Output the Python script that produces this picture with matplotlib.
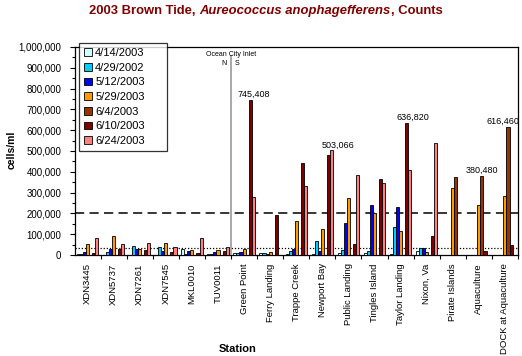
import matplotlib
matplotlib.use("Agg")
import matplotlib.pyplot as plt
import numpy as np
from matplotlib.patches import Patch
from matplotlib.ticker import FuncFormatter, MultipleLocator

plt.rcParams["font.family"] = ["Liberation Sans", "DejaVu Sans"]

stations = ["XDN3445", "XDN5737", "XDN7261", "XDN7545", "MKL0010", "TUV0011",
            "Green Point", "Ferry Landing", "Trappe Creek", "Newport Bay",
            "Public Landing", "Tingles Island", "Taylor Landing", "Nixon, Va",
            "Pirate Islands", "Aquaculture", "DOCK at Aquaculture"]
dates = ["4/14/2003", "4/29/2002", "5/12/2003", "5/29/2003",
         "6/4/2003", "6/10/2003", "6/24/2003"]
colors = ["#CCFFFF", "#00CCFF", "#0000FF", "#FF9900", "#993300", "#800000", "#FF8080"]

counts_0414 = [3000, 0, 0, 0, 28000, 4000, 10000, 8000, 5000, 4000, 8000, 8000, 4000, 19000, 0, 0, 0]
counts_0429 = [5000, 15000, 42000, 38000, 3000, 4000, 10000, 8000, 18000, 67000, 24000, 19000, 136000, 32000, 0, 0, 0]
counts_0512 = [14000, 30000, 30000, 18000, 18000, 15000, 14000, 5000, 29000, 19000, 152000, 240000, 232000, 32000, 0, 0, 0]
counts_0529 = [52000, 90000, 29000, 56000, 24000, 24000, 30000, 14000, 163000, 125000, 272000, 200000, 117000, 16000, 324000, 240000, 284000]
counts_0604 = [0, 0, 0, 0, 0, 0, 0, 0, 0, 0, 0, 0, 0, 0, 377000, 380480, 616460]
counts_0610 = [10000, 29000, 24000, 15000, 12000, 18000, 745408, 192000, 441000, 481000, 52000, 365000, 636820, 91000, 0, 19000, 48000]
counts_0624 = [80000, 52000, 56000, 37000, 80000, 37000, 277000, 0, 332000, 503066, 385000, 348000, 409000, 537000, 0, 0, 0]
series = [counts_0414, counts_0429, counts_0512, counts_0529, counts_0604, counts_0610, counts_0624]

# bars that carry a value label: (date, station, x offset in points)
labelled = [("6/10/2003", "Green Point", 2.5), ("6/24/2003", "Newport Bay", 5),
            ("6/10/2003", "Taylor Landing", 4.5), ("6/4/2003", "Aquaculture", 0),
            ("6/4/2003", "DOCK at Aquaculture", -3.5)]

cat2_threshold = 200000
cat1_threshold = 35000

W, H = 522, 356
fig = plt.figure(figsize=(W / 100, H / 100), dpi=100)
ax = fig.add_axes([74.5 / W, 1 - 255 / H, (518 - 74.5) / W, (255 - 47) / H])

x = np.arange(len(stations))
bw = 0.1176
bars = {}
for k, (d, vals, c) in enumerate(zip(dates, series, colors)):
    bars[d] = ax.bar(x + (k - 3) * bw, vals, width=bw, color=c,
                     edgecolor="black", linewidth=0.6, zorder=3)

ax.axhline(cat2_threshold, color="black", lw=1.1, ls=(0, (6, 3.5)), zorder=2)
ax.axhline(cat1_threshold, color="black", lw=0.9, ls=(0, (1, 1.5)), zorder=2)

# Ocean City Inlet divider
inlet = stations.index("Green Point") - 0.5
ax.axvline(inlet, ymax=0.955, color="#999999", lw=1.2, zorder=4)
ax.text(inlet, 1.0 - 0.035, "Ocean City Inlet", transform=ax.get_xaxis_transform(),
        ha="center", va="center", fontsize=5, zorder=5)
ax.text(inlet - 0.28, 1.0 - 0.08, "N", transform=ax.get_xaxis_transform(),
        ha="center", va="center", fontsize=5)
ax.text(inlet + 0.22, 1.0 - 0.08, "S", transform=ax.get_xaxis_transform(),
        ha="center", va="center", fontsize=5)

for d, st, dx in labelled:
    b = bars[d][stations.index(st)]
    ax.annotate(f"{b.get_height():,.0f}", (b.get_x() + b.get_width() / 2, b.get_height()),
                xytext=(dx, 0.5), textcoords="offset points", ha="center", va="bottom",
                fontsize=6.5, zorder=6)

ax.set_xlim(-0.5, len(stations) - 0.5)
ax.set_ylim(0, 1000000)
ax.yaxis.set_major_locator(MultipleLocator(100000))
ax.yaxis.set_minor_locator(MultipleLocator(50000))
ax.yaxis.set_major_formatter(FuncFormatter(lambda v, p: f"{v:,.0f}"))
ax.tick_params(axis="y", which="major", length=3.5, width=0.8, pad=6, labelsize=7)
ax.tick_params(axis="y", which="minor", length=2, width=0.8)

ax.set_xticks(x + 0.5, minor=False)
ax.set_xticklabels([])
ax.set_xticks(x, minor=True)
ax.set_xticklabels(stations, minor=True, rotation=90, fontsize=6.8)
ax.tick_params(axis="x", which="major", length=3, width=0.8)
ax.tick_params(axis="x", which="minor", length=0, pad=6)

for s in ax.spines.values():
    s.set_linewidth(0.9)

fig.text(12 / W, 1 - 150 / H, "cells/ml", rotation=90, ha="center", va="center",
         fontsize=7.5, fontweight="bold")
fig.text(238 / W, 1 - 349 / H, "Station", ha="center", va="center",
         fontsize=8, fontweight="bold")

handles = [Patch(facecolor=c, edgecolor="black", linewidth=0.6) for c in colors]
leg = fig.legend(handles, dates, loc="upper left", mode="expand",
                 bbox_to_anchor=(79 / W, 1 - 153 / H, 88 / W, 110 / H),
                 fontsize=8, frameon=True, fancybox=False, edgecolor="black",
                 handlelength=0.7, handleheight=0.7, handletextpad=0.3,
                 labelspacing=0.42, borderpad=0.45, borderaxespad=0)
leg.get_frame().set_linewidth(0.9)
leg.set_zorder(10)

# title built from pieces so that the species name can be italic
title_parts = [("2003 Brown Tide, ", "normal"), ("Aureococcus anophagefferens", "italic"),
               (", Counts", "normal")]
fig.canvas.draw()
renderer = fig.canvas.get_renderer()
pieces = [fig.text(0, 1 - 11 / H, s, fontsize=9.4, fontweight="bold", style=st,
                   color="#800000", va="center", ha="left") for s, st in title_parts]
widths = [p.get_window_extent(renderer).width for p in pieces]
xpos = 266 - sum(widths) / 2
for p, w in zip(pieces, widths):
    p.set_x(xpos / W)
    xpos += w

fig.savefig("out.png", dpi=100)
